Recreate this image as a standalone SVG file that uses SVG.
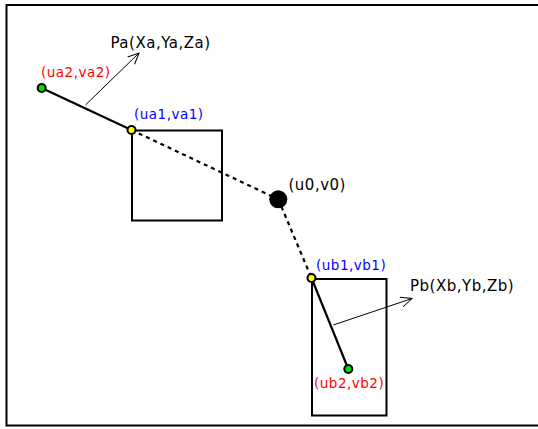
<svg xmlns="http://www.w3.org/2000/svg" width="538" height="429" viewBox="0 0 538 429">
<defs>
<style>
.frame{fill:#fff;stroke:#000;stroke-width:2}
.box{fill:none;stroke:#000;stroke-width:2}
.seg{stroke:#000;stroke-width:2.2;fill:none}
.dash{stroke:#000;stroke-width:2.2;stroke-dasharray:4,4;fill:none}
.arr{stroke:#000;stroke-width:1;fill:none;marker-end:url(#open)}
.pt{stroke:#000;stroke-width:2}
.lbl{font-family:"DejaVu Sans",sans-serif;font-size:15px;letter-spacing:0.5px;fill:#000}
.sm{font-family:"DejaVu Sans",sans-serif;font-size:13.5px;letter-spacing:0.5px}
</style>
<marker id="open" markerWidth="14" markerHeight="12" refX="12" refY="6" orient="auto" markerUnits="userSpaceOnUse">
<path d="M1,1 L12,6 L1,11" fill="none" stroke="#000" stroke-width="1"/>
</marker>
</defs>
<rect class="frame" x="6.5" y="5" width="540" height="420.5"/>
<g id="connectors">
<line class="seg" x1="41.7" y1="88" x2="131.5" y2="130"/>
<line class="dash" x1="131.5" y1="130" x2="278.3" y2="199.3"/>
<line class="dash" x1="278.3" y1="199.3" x2="311.5" y2="278"/>
<line class="seg" x1="311.5" y1="278" x2="348.3" y2="369"/>
<line class="arr" x1="85.5" y1="105" x2="139" y2="53"/>
<line class="arr" x1="333.3" y1="325" x2="412" y2="298.5"/>
</g>
<g id="imageA"><rect class="box" x="132" y="130.5" width="90" height="90"/></g>
<g id="imageB"><rect class="box" x="312" y="279" width="74.5" height="136.5"/></g>
<g id="ua2"><circle class="pt" cx="41.7" cy="88" r="4" fill="#00e000"/><text class="sm" x="41" y="76.5" fill="#ff0000">(ua2,va2)</text></g>
<g id="ua1"><circle class="pt" cx="131.5" cy="130" r="4" fill="#ffff00"/><text class="sm" x="134" y="118.5" fill="#0000ff">(ua1,va1)</text></g>
<g id="u0"><circle cx="278.3" cy="199.3" r="9" fill="#000"/><text class="lbl" x="288.5" y="190">(u0,v0)</text></g>
<g id="ub1"><circle class="pt" cx="311.5" cy="278" r="4" fill="#ffff00"/><text class="sm" x="316" y="269.5" fill="#0000ff">(ub1,vb1)</text></g>
<g id="ub2"><circle class="pt" cx="348.3" cy="369" r="4" fill="#00e000"/><text class="sm" x="314" y="387.5" fill="#ff0000">(ub2,vb2)</text></g>
<g id="Pa"><text class="lbl" x="110.5" y="47.5">Pa(Xa,Ya,Za)</text></g>
<g id="Pb"><text class="lbl" x="410" y="291">Pb(Xb,Yb,Zb)</text></g>
</svg>
